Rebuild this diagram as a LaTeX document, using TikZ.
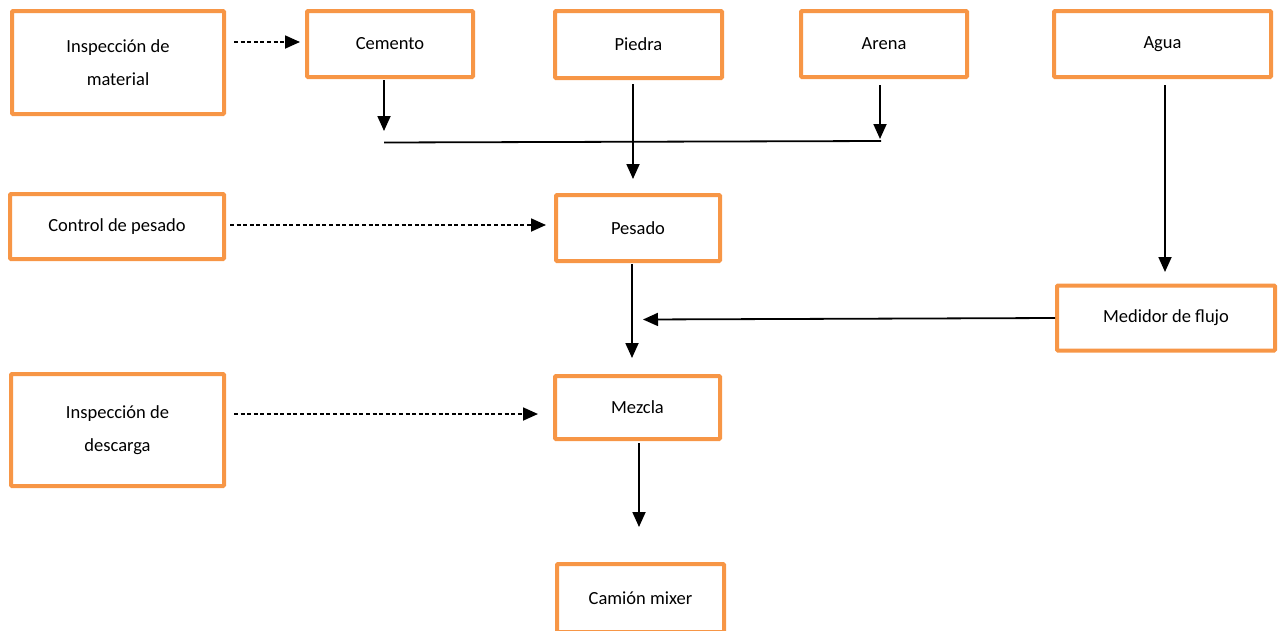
\documentclass[tikz,border=0pt]{standalone}
\usepackage{fontspec}
\setmainfont{Carlito}
\usetikzlibrary{arrows.meta,calc}
\definecolor{boxorange}{HTML}{F79646}
\tikzset{
  box/.style={draw=boxorange, line width=4pt, rounded corners=1pt, fill=white,
    align=center, font=\fontsize{18.5}{32.5}\selectfont, inner sep=0pt},
  flow/.style={line width=1.8pt, -{Triangle[length=15pt,width=13pt]}},
  ctrl/.style={line width=1.8pt, dash pattern=on 4pt off 2.6pt, -{Triangle[length=15pt,width=13pt]}},
  plain/.style={line width=1.8pt}
}
\begin{document}
\begin{tikzpicture}[x=1pt,y=-1pt]
\useasboundingbox (0,0) rectangle (1278,630);
% boxes
\node[box, minimum width=212pt, minimum height=103pt] (insp1) at (118,62.5) {Inspección de\\material};
\node[box, minimum width=166pt, minimum height=66pt] (cem) at (390,44) {Cemento};
\node[box, minimum width=167pt, minimum height=67pt] (pie) at (638.5,44.5) {Piedra};
\node[box, minimum width=166pt, minimum height=66pt] (are) at (884,44) {Arena};
\node[box, minimum width=217pt, minimum height=66pt] (agua) at (1162.5,44) {Agua};
\node[box, minimum width=214pt, minimum height=65pt] (ctrl) at (117,226.5) {Control de pesado};
\node[box, minimum width=164pt, minimum height=66pt] (pes) at (638,228) {Pesado};
\node[box, minimum width=218pt, minimum height=65pt] (med) at (1166,318) {Medidor de flujo};
\node[box, minimum width=213pt, minimum height=112pt] (insp2) at (117.5,430) {Inspección de\\descarga};
\node[box, minimum width=165pt, minimum height=63pt] (mez) at (637.5,407.5) {Mezcla};
\node[box, minimum width=167pt, minimum height=68pt] (cam) at (640.5,598) {Camión mixer};
% free-end coordinates
\coordinate (cemTip) at (384,131);
\coordinate (areTip) at (880,139);
\coordinate (barL) at (384,142.5);
\coordinate (barR) at (881,141);
\coordinate (pieTip) at (633,179);
\coordinate (aguaTip) at (1165,272);
\coordinate (pesTip) at (632,358);
\coordinate (medTip) at (643,319.5);
\coordinate (mezTip) at (639,527);
\coordinate (insp1Tip) at (300,42);
\coordinate (ctrlTip) at (546,225);
\coordinate (insp2Tip) at (538,414);
% connectors
\draw[ctrl] ($(insp1.east)+(8,-20.5)$) -- (insp1Tip);
\draw[flow] (cem.south -| cemTip) ++(0,1) -- (cemTip);
\draw[flow] (are.south -| areTip) ++(0,6) -- (areTip);
\draw[plain] (barL) -- (barR);
\draw[flow] (pie.south -| pieTip) ++(0,4) -- (pieTip);
\draw[flow] (agua.south -| aguaTip) ++(0,6) -- (aguaTip);
\draw[ctrl] ($(ctrl.east)+(4,-1.5)$) -- (ctrlTip);
\draw[flow] (pes.south -| pesTip) ++(0,1) -- (pesTip);
\draw[flow] (med.west) -- (medTip);
\draw[ctrl] ($(insp2.east)+(8,-16)$) -- (insp2Tip);
\draw[flow] (mez.south -| mezTip) ++(0,2) -- (mezTip);
\end{tikzpicture}
\end{document}
